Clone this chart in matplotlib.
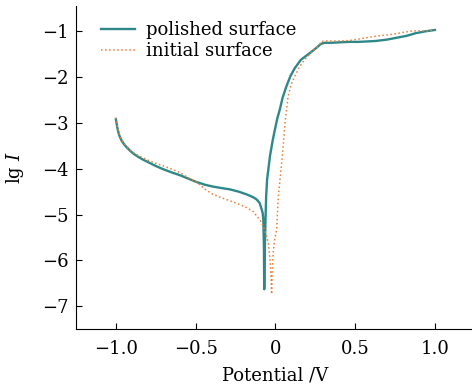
from matplotlib import pyplot as plt

# polished surface
v_pol = [-1.0, -0.99, -0.98, -0.965, -0.95, -0.93, -0.91, -0.89, -0.86, -0.83,
         -0.79, -0.75, -0.703, -0.65, -0.599, -0.55, -0.494, -0.44, -0.39, -0.34,
         -0.285, -0.23, -0.18, -0.14, -0.118, -0.10, -0.093, -0.08, -0.076, -0.072,
         -0.070, -0.068, -0.066, -0.061, -0.058, -0.052, -0.034, -0.018, -0.003, 0.012,
         0.028, 0.045, 0.07, 0.095, 0.122, 0.16, 0.206, 0.25, 0.287, 0.31,
         0.35, 0.40, 0.465, 0.52, 0.58, 0.63, 0.70, 0.76, 0.82, 0.88,
         0.94, 1.0]
lg_pol = [-2.92, -3.12, -3.26, -3.38, -3.46, -3.54, -3.61, -3.67, -3.74, -3.80,
          -3.87, -3.94, -4.01, -4.08, -4.14, -4.21, -4.29, -4.35, -4.39, -4.42,
          -4.45, -4.50, -4.56, -4.62, -4.67, -4.74, -4.81, -4.96, -5.10, -5.69,
          -6.63, -6.00, -5.69, -4.96, -4.60, -4.23, -3.72, -3.40, -3.14, -2.90,
          -2.70, -2.45, -2.19, -1.97, -1.80, -1.62, -1.50, -1.38, -1.27, -1.25,
          -1.25, -1.24, -1.23, -1.23, -1.22, -1.21, -1.18, -1.14, -1.10, -1.04,
          -1.00, -0.97]

# initial surface
v_ini = [-1.0, -0.99, -0.98, -0.965, -0.95, -0.93, -0.91, -0.89, -0.86, -0.83,
         -0.80, -0.75, -0.70, -0.65, -0.60, -0.55, -0.49, -0.44, -0.39, -0.34,
         -0.285, -0.23, -0.18, -0.14, -0.118, -0.095, -0.076, -0.06, -0.045, -0.035,
         -0.028, -0.024, -0.020, -0.014, -0.005, 0.008, 0.018, 0.029, 0.039, 0.05,
         0.06, 0.07, 0.08, 0.10, 0.122, 0.15, 0.185, 0.215, 0.248, 0.28,
         0.30, 0.35, 0.40, 0.465, 0.52, 0.57, 0.64, 0.72, 0.79, 0.86,
         0.95, 1.0]
lg_ini = [-2.88, -3.10, -3.24, -3.36, -3.44, -3.52, -3.59, -3.65, -3.71, -3.76,
          -3.81, -3.88, -3.94, -4.01, -4.08, -4.19, -4.30, -4.45, -4.56, -4.63,
          -4.70, -4.77, -4.85, -4.93, -5.03, -5.13, -5.25, -5.42, -5.61, -5.95,
          -6.30, -6.74, -6.30, -5.83, -5.55, -5.32, -4.62, -4.23, -3.87, -3.45,
          -3.00, -2.70, -2.41, -2.15, -1.98, -1.78, -1.61, -1.50, -1.39, -1.27,
          -1.21, -1.21, -1.21, -1.20, -1.17, -1.14, -1.10, -1.07, -1.03, -0.99,
          -0.99, -0.97]

plt.rcParams["font.family"] = "DejaVu Serif"
plt.rcParams["mathtext.fontset"] = "dejavuserif"
plt.rcParams["font.size"] = 13

fig = plt.figure(figsize=(4.72, 3.84), dpi=100)
ax = fig.add_axes([0.161, 0.143, 0.845, 0.841])

ax.plot(v_pol, lg_pol, color="#2e8888", lw=1.7, label="polished surface")
ax.plot(v_ini, lg_ini, color="#f07d35", lw=1.1, ls=":", label="initial surface")

ax.set_xlim(-1.25, 1.25)
ax.set_ylim(-7.5, -0.45)
ax.set_xticks([-1.0, -0.5, 0, 0.5, 1.0])
ax.set_xticklabels(["\u22121.0", "\u22120.5", "0", "0.5", "1.0"])
ax.set_yticks(range(-7, 0))
ax.tick_params(direction="in", length=4)
ax.tick_params(axis="x", pad=8)
ax.tick_params(axis="y", pad=5)
ax.spines["top"].set_visible(False)
ax.spines["right"].set_visible(False)

ax.set_xlabel("Potential /V", labelpad=6)
ax.set_ylabel(r"lg $I$", labelpad=12)
ax.legend(loc="upper left", frameon=False, handlelength=1.9, handletextpad=0.6,
          borderaxespad=0.0, labelspacing=0.15, bbox_to_anchor=(0.045, 0.975))

fig.savefig("out.png", dpi=100)
